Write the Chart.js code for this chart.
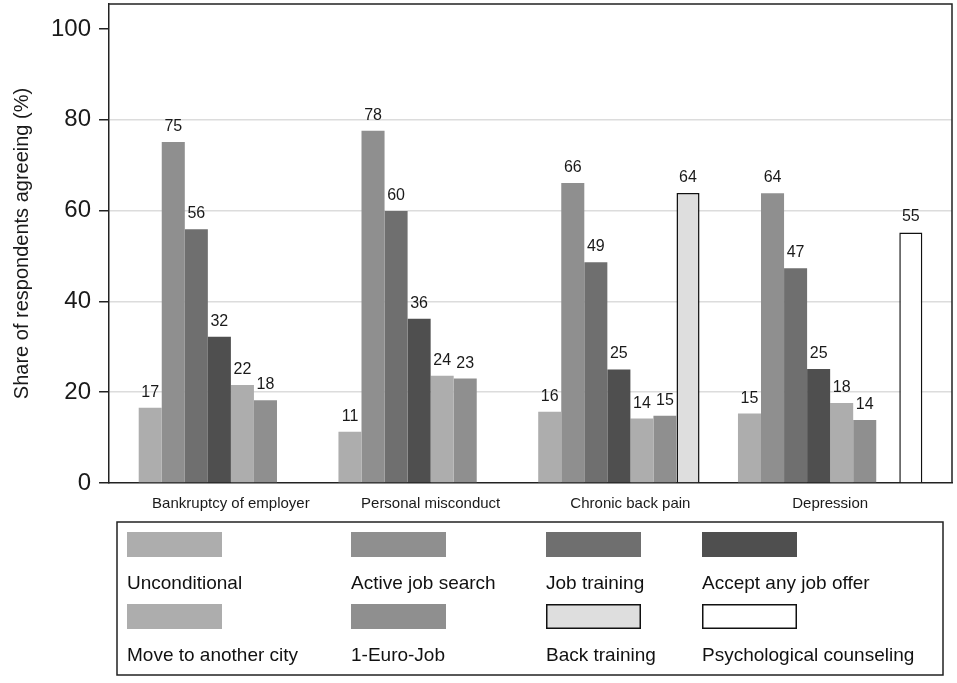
<!DOCTYPE html>
<html lang="en">
<head>
    <meta charset="UTF-8">
    <title>Share of respondents agreeing</title>
    <script src="https://cdn.jsdelivr.net/npm/chart.js"></script>
    <style>
        html, body {
            margin: 0;
            padding: 0;
            background: #fff;
        }
        #wrap {
            width: 957px;
            height: 683px;
        }
    </style>
</head>
<body>
    <div id="wrap"><canvas id="chart" width="957" height="683"></canvas></div>

    <script>
        const categories = ['Bankruptcy of employer', 'Personal misconduct', 'Chronic back pain', 'Depression'];

        // bar heights; labels show the rounded values
        const unconditional = [16.6, 11.3, 15.7, 15.3];
        const activeJobSearch = [75.1, 77.6, 66.1, 63.8];
        const jobTraining = [55.9, 59.9, 48.6, 47.3];
        const acceptAnyJob = [32.2, 36.2, 25.0, 25.1];
        const moveCity = [21.6, 23.6, 14.2, 17.6];
        const euroJob = [18.2, 23.0, 14.8, 13.9];
        const backTraining = [null, null, 63.9, null];
        const counseling = [null, null, null, 55.2];

        const yTicks = [0, 20, 40, 60, 80, 100];

        const FONT = "Arial, 'Liberation Sans', sans-serif";

        function toPoints(values) {
            return values.map((v, i) => ({ x: i, y: v }));
        }

        function series(label, values, fill, outlined) {
            return {
                label: label,
                data: toPoints(values),
                backgroundColor: fill,
                borderColor: '#111',
                borderWidth: outlined ? 1.5 : 0,
                outlined: outlined
            };
        }

        const datasets = [
            series('Unconditional', unconditional, '#adadad', false),
            series('Active job search', activeJobSearch, '#8f8f8f', false),
            series('Job training', jobTraining, '#6f6f6f', false),
            series('Accept any job offer', acceptAnyJob, '#4f4f4f', false),
            series('Move to another city', moveCity, '#adadad', false),
            series('1-Euro-Job', euroJob, '#8f8f8f', false),
            series('Back training', backTraining, '#dedede', true),
            series('Psychological counseling', counseling, '#ffffff', true)
        ];

        // box around the plot area (top and right sides)
        const framePlugin = {
            id: 'frame',
            afterDraw(chart) {
                const { ctx, chartArea: a } = chart;
                ctx.save();
                ctx.strokeStyle = '#222';
                ctx.lineWidth = 1.5;
                ctx.beginPath();
                ctx.moveTo(a.left, a.top);
                ctx.lineTo(a.right, a.top);
                ctx.lineTo(a.right, a.bottom);
                ctx.stroke();
                ctx.restore();
            }
        };

        // value labels above each bar
        const valueLabels = {
            id: 'valueLabels',
            afterDatasetsDraw(chart) {
                const ctx = chart.ctx;
                ctx.save();
                ctx.font = '16px ' + FONT;
                ctx.fillStyle = '#1a1a1a';
                ctx.textAlign = 'center';
                ctx.textBaseline = 'alphabetic';
                chart.data.datasets.forEach((ds, di) => {
                    const meta = chart.getDatasetMeta(di);
                    meta.data.forEach((bar, i) => {
                        const v = ds.data[i].y;
                        if (v === null) return;
                        ctx.fillText(String(Math.round(v)), bar.x, bar.y - 11);
                    });
                });
                ctx.restore();
            }
        };

        // legend: boxed, swatch above text, 4 columns x 2 rows
        const boxLegend = {
            id: 'boxLegend',
            afterDraw(chart) {
                const ctx = chart.ctx;
                const colX = [127, 351, 546, 702];
                const rowY = [532, 604];
                ctx.save();
                ctx.strokeStyle = '#222';
                ctx.lineWidth = 1.5;
                ctx.strokeRect(117, 522, 826, 153);
                ctx.font = '19px ' + FONT;
                ctx.textAlign = 'left';
                ctx.textBaseline = 'middle';
                chart.data.datasets.forEach((ds, i) => {
                    const x = colX[i % 4];
                    const y = rowY[Math.floor(i / 4)];
                    ctx.fillStyle = ds.backgroundColor;
                    ctx.fillRect(x, y, 95, 25);
                    if (ds.outlined) {
                        ctx.strokeStyle = '#111';
                        ctx.lineWidth = 1.5;
                        ctx.strokeRect(x + 0.75, y + 0.75, 93.5, 23.5);
                    }
                    ctx.fillStyle = '#111';
                    ctx.fillText(ds.label, x, y + 52);
                });
                ctx.restore();
            }
        };

        new Chart(document.getElementById('chart').getContext('2d'), {
            type: 'bar',
            data: { datasets: datasets },
            options: {
                responsive: false,
                animation: false,
                devicePixelRatio: 1,
                categoryPercentage: 0.923,
                barPercentage: 1,
                layout: { padding: { left: 4, right: 5, top: 4, bottom: 158 } },
                plugins: {
                    legend: { display: false },
                    tooltip: { enabled: false }
                },
                scales: {
                    x: {
                        type: 'linear',
                        offset: false,
                        min: -0.61,
                        max: 3.61,
                        afterBuildTicks(scale) {
                            scale.ticks = categories.map((c, i) => ({ value: i }));
                        },
                        afterFit(scale) {
                            scale.paddingLeft = 0;
                            scale.paddingRight = 0;
                        },
                        ticks: {
                            autoSkip: false,
                            maxRotation: 0,
                            padding: 12,
                            color: '#1a1a1a',
                            font: { family: FONT, size: 15 },
                            callback: (v) => categories[v]
                        },
                        grid: { display: false, drawTicks: false },
                        border: { display: true, color: '#222', width: 1.5 }
                    },
                    y: {
                        min: 0,
                        max: 105.5,
                        afterBuildTicks(scale) {
                            scale.ticks = yTicks.map(v => ({ value: v }));
                        },
                        afterFit(scale) {
                            scale.paddingTop = 0;
                            scale.paddingBottom = 0;
                        },
                        ticks: {
                            padding: 8,
                            color: '#1a1a1a',
                            font: { family: FONT, size: 24 }
                        },
                        grid: {
                            color: (c) => (c.tick && c.tick.value > 0 && c.tick.value < 100) ? '#dcdcdc' : 'rgba(0,0,0,0)',
                            lineWidth: 1.5,
                            tickColor: '#222',
                            tickLength: 10
                        },
                        border: { display: true, color: '#222', width: 1.5 },
                        title: {
                            display: true,
                            text: 'Share of respondents agreeing (%)',
                            color: '#1a1a1a',
                            font: { family: FONT, size: 20 },
                            padding: { top: 6, bottom: 9 }
                        }
                    }
                }
            },
            plugins: [framePlugin, valueLabels, boxLegend]
        });
    </script>
</body>
</html>
